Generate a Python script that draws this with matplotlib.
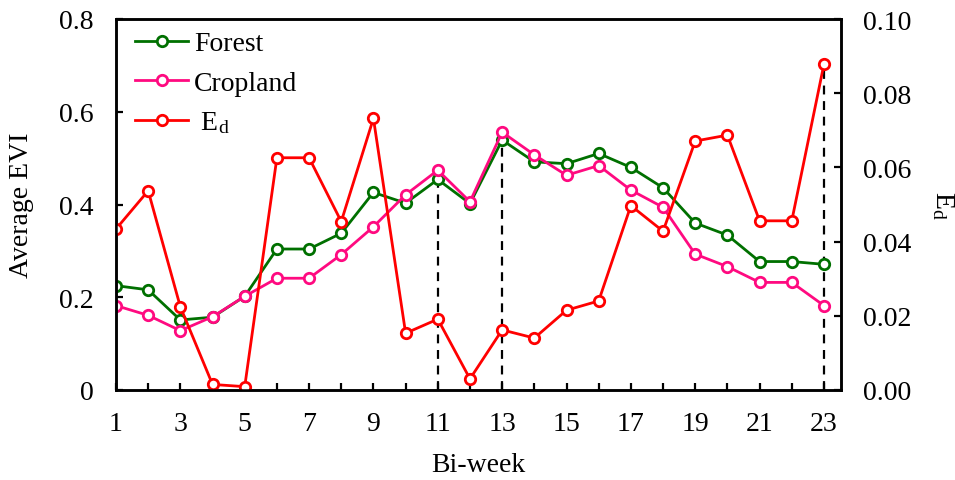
import numpy as np
import matplotlib
matplotlib.use('Agg')
import matplotlib.pyplot as plt

plt.rcParams['font.family'] = ['Liberation Serif', 'DejaVu Serif']
plt.rcParams['mathtext.fontset'] = 'custom'
plt.rcParams['mathtext.rm'] = 'Liberation Serif'
plt.rcParams['mathtext.it'] = 'Liberation Serif'

biweek = list(range(1, 24))
forest = [0.225, 0.216, 0.151, 0.157, 0.202, 0.304, 0.304, 0.338, 0.426, 0.403, 0.454, 0.402,
          0.539, 0.492, 0.488, 0.510, 0.480, 0.436, 0.360, 0.334, 0.277, 0.277, 0.271]
cropland = [0.182, 0.161, 0.128, 0.158, 0.202, 0.241, 0.241, 0.292, 0.352, 0.421, 0.474, 0.406,
            0.556, 0.507, 0.463, 0.484, 0.431, 0.394, 0.293, 0.266, 0.232, 0.232, 0.182]
ed = [0.0434, 0.0537, 0.0224, 0.0015, 0.0009, 0.0626, 0.0626, 0.0454, 0.0732, 0.0153, 0.0191, 0.0030,
      0.0162, 0.0140, 0.0215, 0.0240, 0.0497, 0.0428, 0.0671, 0.0687, 0.0456, 0.0456, 0.0878]
marcas = [11, 13, 23]

verde = '#007000'
rosa = '#FF0A80'
rojo = '#FF0000'

fig = plt.figure(figsize=(9.55, 4.81), dpi=100)
ax = fig.add_axes([116 / 955, 90 / 481, (841 - 116) / 955, (391 - 20) / 481])
ax2 = ax.twinx()

estilo = dict(lw=2.0, marker='o', ms=7.5, mfc='white', mew=2.0)
l1, = ax.plot(biweek, forest, color=verde, label='Forest', **estilo)
l2, = ax.plot(biweek, cropland, color=rosa, label='Cropland', **estilo)
l3, = ax2.plot(biweek, ed, color=rojo, label=' E$_\\mathregular{d}$', **estilo)

# dashed lines up to the highest point at each marked bi-week
for m in marcas:
    i = m - 1
    tope = max(forest[i], cropland[i], ed[i] * 8)
    ax.vlines(m, 0, tope, colors='black', linestyles=(0, (4, 3)), lw=1.6, zorder=0)

ax.set_xlim(1, 23.53)
ax.set_ylim(0, 0.8)
ax2.set_ylim(0, 0.10)

ax.set_xticks(biweek)
ax.set_xticklabels([str(b) if b % 2 == 1 else '' for b in biweek])
ax.set_yticks([0, 0.2, 0.4, 0.6, 0.8])
ax.set_yticklabels(['0', '0.2', '0.4', '0.6', '0.8'])
ax2.set_yticks([0, 0.02, 0.04, 0.06, 0.08, 0.10])
ax2.set_yticklabels(['0.00', '0.02', '0.04', '0.06', '0.08', '0.10'])

for a in (ax, ax2):
    a.tick_params(direction='in', length=5, width=1.6, labelsize=20, pad=16)
    for s in a.spines.values():
        s.set_linewidth(1.8)
ax.tick_params(axis='x', pad=15)

ax.set_xlabel('Bi-week', fontsize=20, labelpad=12)
ax.set_ylabel('Average EVI', fontsize=20, labelpad=18)
ax2.set_ylabel('E$_\\mathregular{d}$', fontsize=20, rotation=-90, labelpad=32)

ax.legend(handles=[l1, l2, l3], loc='upper left', bbox_to_anchor=(0.0, 1.02), frameon=False,
          fontsize=20, handlelength=1.9, handletextpad=0.2, labelspacing=0.5, borderaxespad=0.3)

fig.savefig('out.png', dpi=100)
